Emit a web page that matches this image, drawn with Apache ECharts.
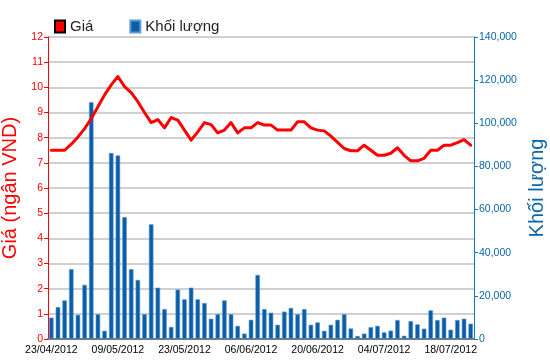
<!DOCTYPE html>
<html>
<head>
<meta charset="utf-8">
<script src="https://cdn.jsdelivr.net/npm/echarts@6/dist/echarts.min.js"></script>
<style>
html,body{margin:0;padding:0;background:#fff;}
#chart{width:550px;height:364px;}
</style>
</head>
<body>
<div id="chart"></div>
<script>
var categories = [
"23/04/2012","24/04/2012","25/04/2012","26/04/2012","27/04/2012","02/05/2012","03/05/2012","04/05/2012","07/05/2012","08/05/2012",
"09/05/2012","10/05/2012","11/05/2012","14/05/2012","15/05/2012","16/05/2012","17/05/2012","18/05/2012","21/05/2012","22/05/2012",
"23/05/2012","24/05/2012","25/05/2012","28/05/2012","29/05/2012","30/05/2012","31/05/2012","01/06/2012","04/06/2012","05/06/2012",
"06/06/2012","07/06/2012","08/06/2012","11/06/2012","12/06/2012","13/06/2012","14/06/2012","15/06/2012","18/06/2012","19/06/2012",
"20/06/2012","21/06/2012","22/06/2012","25/06/2012","26/06/2012","27/06/2012","28/06/2012","29/06/2012","02/07/2012","03/07/2012",
"04/07/2012","05/07/2012","06/07/2012","09/07/2012","10/07/2012","11/07/2012","12/07/2012","13/07/2012","16/07/2012","17/07/2012",
"18/07/2012","19/07/2012","20/07/2012","23/07/2012"
];
var price = [
7.5,7.5,7.5,7.74,8.03,8.36,8.76,9.23,9.7,10.1,
10.43,10.03,9.79,9.43,9.0,8.6,8.72,8.39,8.8,8.7,
8.3,7.9,8.23,8.6,8.52,8.19,8.3,8.6,8.19,8.39,
8.39,8.6,8.5,8.5,8.3,8.3,8.3,8.63,8.63,8.39,
8.3,8.27,8.06,7.81,7.57,7.48,7.48,7.7,7.5,7.3,
7.3,7.38,7.6,7.3,7.08,7.08,7.18,7.5,7.5,7.7,
7.7,7.8,7.92,7.7
];
var volume = [
9900,14800,17900,32400,11200,25100,109800,11500,3800,86200,
85100,56500,32400,27400,11500,53200,23800,13900,5600,22900,
18400,23800,18400,16700,9400,11500,17900,11500,6100,2500,
8900,29700,13900,12200,6600,12700,14400,11500,13900,6600,
7700,3800,6600,8900,11500,4900,1400,2500,5500,6100,
3100,3900,8800,1500,8300,6800,4800,13300,8800,9900,
4300,8800,9400,7100
];
var priceTicks = {min:0, max:12, interval:1};
var volumeTicks = {min:0, max:140000, interval:20000};

var FONT = 'Liberation Sans, Arial, sans-serif';
var chart = echarts.init(document.getElementById('chart'), null, {renderer:'canvas'});
chart.setOption({
  animation:false,
  backgroundColor:'#ffffff',
  textStyle:{fontFamily:FONT},
  legend:{
    left:54, top:19, padding:0,
    itemWidth:10, itemHeight:12, itemGap:36,
    icon:'rect',
    textStyle:{fontSize:15, color:'#222', fontFamily:FONT},
    data:['Giá','Khối lượng']
  },
  grid:{left:48, right:76, top:37, bottom:25, containLabel:false, outerBoundsMode:'none'},
  xAxis:[{
    type:'category', data:categories, boundaryGap:true,
    axisLine:{lineStyle:{color:'#000', width:1}},
    axisTick:{alignWithLabel:true, interval:9, length:5, lineStyle:{color:'#000'}},
    axisLabel:{interval:9, color:'#000', fontSize:10.5, fontFamily:FONT, margin:6},
    splitLine:{show:false}
  },{
    type:'category', data:categories, position:'top',
    axisLine:{lineStyle:{color:'#777', width:2}},
    axisTick:{show:false}, axisLabel:{show:false}, splitLine:{show:false}
  }],
  yAxis:[{
    type:'value', position:'left',
    min:priceTicks.min, max:priceTicks.max, interval:priceTicks.interval,
    name:'Giá (ngân VND)', nameLocation:'middle', nameGap:21, nameRotate:90,
    nameTextStyle:{color:'#ff0000', fontSize:20, fontFamily:FONT},
    axisLine:{show:true, lineStyle:{color:'#ff0000', width:1}},
    axisTick:{show:true, length:4, lineStyle:{color:'#ff0000'}},
    axisLabel:{color:'#ff0000', fontSize:10.5, fontFamily:FONT, margin:5},
    splitLine:{show:true, lineStyle:{color:'#d0d0d0', width:2}}
  },{
    type:'value', position:'right',
    min:volumeTicks.min, max:volumeTicks.max, interval:volumeTicks.interval,
    name:'Khối lượng', nameLocation:'middle', nameGap:45, nameRotate:90,
    nameTextStyle:{color:'#0a66a8', fontSize:20, fontFamily:FONT},
    axisLine:{show:true, lineStyle:{color:'#1478b8', width:1}},
    axisTick:{show:true, length:4, lineStyle:{color:'#1478b8'}},
    axisLabel:{color:'#0a66a8', fontSize:10.5, fontFamily:FONT, margin:5},
    splitLine:{show:false}
  }],
  series:[{
    name:'Giá', type:'line', data:price, yAxisIndex:0, z:5,
    symbol:'none', smooth:false,
    lineStyle:{color:'#ff0000', width:3, join:'round', cap:'round'},
    itemStyle:{color:'#ff0000', borderColor:'#000', borderWidth:1}
  },{
    name:'Khối lượng', type:'bar', data:volume, yAxisIndex:1, z:2,
    barWidth:'68%',
    itemStyle:{color:'#0b5da6', borderColor:'#5d9bd6', borderWidth:0.6}
  }]
});
</script>
</body>
</html>
